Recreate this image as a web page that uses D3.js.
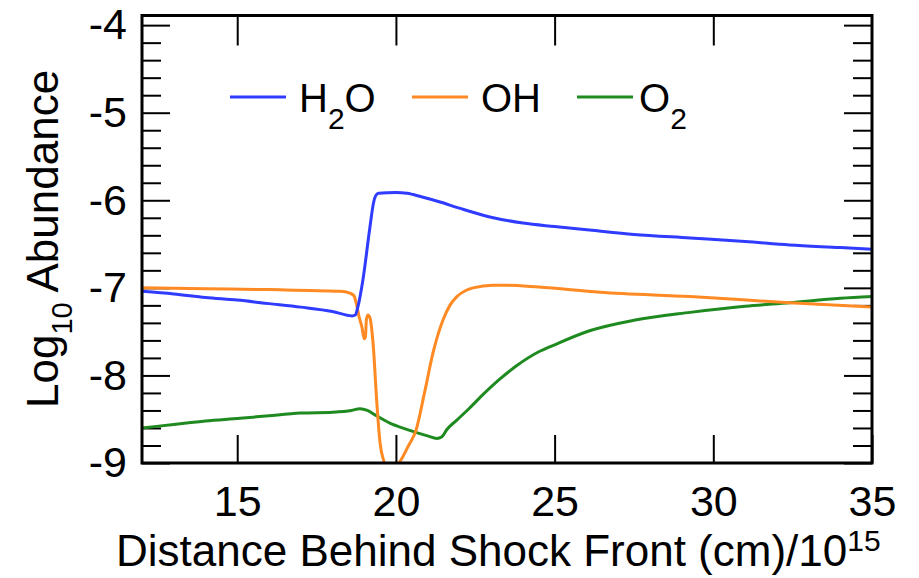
<!DOCTYPE html>
<html>
<head>
<meta charset="utf-8">
<script src="https://cdn.jsdelivr.net/npm/d3@7"></script>
<style>
  html, body { margin: 0; padding: 0; background: #fff; }
  svg { display: block; font-family: "Liberation Sans", Arial, Helvetica, sans-serif; }
</style>
</head>
<body>
<svg id="chart" width="919" height="578"></svg>
<script>
// ---------------- data ----------------
const h2oX = [12, 13, 14, 15, 16, 17, 18, 18.62, 18.72, 18.80, 18.96, 19.18, 19.30, 19.36, 19.45, 20.0, 20.35, 20.8, 21.39, 22.0, 22.96, 24.0, 25.0, 26.1, 27.5, 29.27, 31.0, 32.4, 34.0, 35.0];
const h2oY = [-7.04, -7.07, -7.11, -7.14, -7.18, -7.22, -7.27, -7.32, -7.31, -7.22, -6.91, -6.31, -6.02, -5.95, -5.92, -5.91, -5.92, -5.96, -6.02, -6.09, -6.19, -6.26, -6.30, -6.34, -6.39, -6.43, -6.47, -6.51, -6.54, -6.56];

const ohX = [12, 14, 16, 18.24, 18.55, 18.68, 18.74, 18.84, 18.93, 19.00, 19.04, 19.07, 19.12, 19.18, 19.28, 19.40, 19.50, 19.62, 19.75, 19.95, 20.10, 20.20, 20.40, 20.63, 20.90, 21.17, 21.48, 21.70, 21.92, 22.20, 22.43, 23.06, 23.50, 24.50, 26.43, 29.27, 32.4, 35.0];
const ohY = [-7.00, -7.01, -7.02, -7.04, -7.06, -7.09, -7.16, -7.33, -7.45, -7.58, -7.56, -7.36, -7.31, -7.34, -7.63, -8.32, -8.77, -8.98, -9.10, -9.10, -9.00, -8.94, -8.80, -8.63, -8.20, -7.74, -7.37, -7.20, -7.10, -7.03, -7.00, -6.97, -6.97, -6.99, -7.05, -7.10, -7.17, -7.22];

const o2X = [12, 13, 14, 15.09, 16, 17, 18, 18.6, 18.87, 19.1, 19.34, 19.9, 20.13, 20.63, 21.0, 21.29, 21.45, 21.6, 21.92, 22.3, 22.74, 23.28, 23.8, 24.5, 25.0, 26.1, 27.5, 29.27, 31.0, 32.4, 34.0, 35.0];
const o2Y = [-8.60, -8.56, -8.52, -8.49, -8.46, -8.43, -8.42, -8.40, -8.38, -8.40, -8.45, -8.56, -8.59, -8.65, -8.69, -8.72, -8.70, -8.62, -8.51, -8.38, -8.22, -8.04, -7.89, -7.73, -7.65, -7.49, -7.37, -7.28, -7.21, -7.17, -7.12, -7.10];

const seriesNames = ["H2O", "OH", "O2"];
const seriesColors = ["#2f3cff", "#ff8a24", "#1f8a1f"];

const xTicks = [15, 20, 25, 30, 35];
const xTopTicks = [15, 20, 25, 30];
const yTicks = [-9, -8, -7, -6, -5, -4];
const yMinorTicks = d3.range(-9, -3.9, 0.2).map(v => +v.toFixed(1)).filter(v => !yTicks.includes(v));

// ---------------- layout ----------------
const svg = d3.select("#chart");
const mLeft = 142, mRight = 872, mTop = 15.5, mBottom = 463;

const x = d3.scaleLinear().domain([12, 35]).range([mLeft, mRight]);
const y = d3.scaleLinear().domain([-9, -3.89]).range([mBottom, mTop]);

svg.append("defs").append("clipPath").attr("id", "plotclip")
  .append("rect").attr("x", mLeft).attr("y", mTop).attr("width", mRight - mLeft).attr("height", mBottom - mTop);

const tickStyle = g => {
  g.select(".domain").remove();
  g.selectAll(".tick line").attr("stroke", "#000").attr("stroke-width", 2);
  g.selectAll(".tick text").attr("fill", "#000").attr("font-size", 43)
    .attr("font-family", "'Liberation Sans', Arial, Helvetica, sans-serif");
};
const plain = d => String(d);

svg.append("g").attr("transform", `translate(${mLeft},0)`)
  .call(d3.axisLeft(y).tickValues(yTicks).tickSize(-28).tickPadding(15).tickFormat(plain))
  .call(tickStyle);
svg.append("g").attr("transform", `translate(${mLeft},0)`)
  .call(d3.axisLeft(y).tickValues(yMinorTicks).tickSize(-19).tickFormat(""))
  .call(tickStyle);
svg.append("g").attr("transform", `translate(${mRight},0)`)
  .call(d3.axisRight(y).tickValues(yTicks).tickSize(-28).tickFormat(""))
  .call(tickStyle);
svg.append("g").attr("transform", `translate(${mRight},0)`)
  .call(d3.axisRight(y).tickValues(yMinorTicks).tickSize(-19).tickFormat(""))
  .call(tickStyle);
svg.append("g").attr("transform", `translate(0,${mBottom})`)
  .call(d3.axisBottom(x).tickValues(xTicks).tickSize(-28).tickPadding(22).tickFormat(plain))
  .call(tickStyle);
svg.append("g").attr("transform", `translate(0,${mTop})`)
  .call(d3.axisTop(x).tickValues(xTopTicks).tickSize(-30).tickFormat(""))
  .call(tickStyle);

const line = d3.line().x(d => x(d[0])).y(d => y(d[1])).curve(d3.curveMonotoneX);
const allSeries = [
  d3.zip(h2oX, h2oY),
  d3.zip(ohX, ohY),
  d3.zip(o2X, o2Y)
];
const plot = svg.append("g").attr("clip-path", "url(#plotclip)");
[2, 1, 0].forEach(i => {
  plot.append("path").datum(allSeries[i])
    .attr("fill", "none").attr("stroke", seriesColors[i]).attr("stroke-width", 3)
    .attr("stroke-linejoin", "round").attr("stroke-linecap", "round")
    .attr("d", line);
});

svg.append("rect").attr("x", mLeft).attr("y", mTop).attr("width", mRight - mLeft).attr("height", mBottom - mTop)
  .attr("fill", "none").attr("stroke", "#000").attr("stroke-width", 3);

const legendItems = [
  {lx1: 230, lx2: 286, tx: 299, main: "H", sub: "2", tail: "O"},
  {lx1: 412, lx2: 468, tx: 481, main: "OH", sub: null, tail: null},
  {lx1: 577, lx2: 633, tx: 639, main: "O", sub: "2", tail: null}
];
const legendY = 97, legendBase = 112;
legendItems.forEach((it, i) => {
  svg.append("line").attr("x1", it.lx1).attr("x2", it.lx2).attr("y1", legendY).attr("y2", legendY)
    .attr("stroke", seriesColors[i]).attr("stroke-width", 3);
  const t = svg.append("text").attr("x", it.tx).attr("y", legendBase).attr("font-size", 40).attr("fill", "#000");
  t.append("tspan").text(it.main);
  if (it.sub) t.append("tspan").attr("font-size", 30).attr("dy", 17).text(it.sub);
  if (it.tail) t.append("tspan").attr("font-size", 40).attr("dy", -17).text(it.tail);
});

const xt = svg.append("text").attr("x", 116).attr("y", 566).attr("font-size", 44).attr("fill", "#000");
xt.append("tspan").text("Distance Behind Shock Front (cm)/10");
xt.append("tspan").attr("font-size", 30).attr("dy", -15).text("15");

const yt = svg.append("text").attr("transform", "translate(58,408) rotate(-90)").attr("font-size", 44).attr("fill", "#000");
yt.append("tspan").text("Log");
yt.append("tspan").attr("font-size", 29).attr("dy", 14).text("10");
yt.append("tspan").attr("font-size", 44).attr("dy", -14).text(" Abundance");
</script>
</body>
</html>
